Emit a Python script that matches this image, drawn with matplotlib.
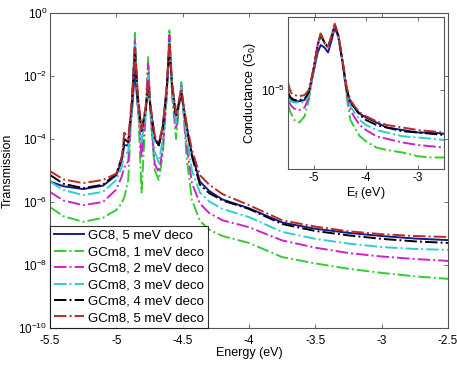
import numpy as np
import matplotlib
matplotlib.use("Agg")
import matplotlib.pyplot as plt
from matplotlib.ticker import FixedLocator, NullLocator, LogFormatterSciNotation

plt.rcParams['font.family'] = ['Liberation Sans', 'DejaVu Sans']
plt.rcParams['mathtext.fontset'] = 'custom'
plt.rcParams['mathtext.rm'] = 'Liberation Sans'
plt.rcParams['mathtext.it'] = 'Liberation Sans:italic'
plt.rcParams['axes.unicode_minus'] = False

# ---------------- main panel data (log10 of transmission) ----------------
energy = [-5.50, -5.40, -5.25, -5.10, -5.00, -4.96, -4.94, -4.91, -4.88, -4.86,
          -4.84, -4.81, -4.78, -4.76, -4.74, -4.71, -4.68, -4.65, -4.62, -4.60,
          -4.58, -4.55, -4.51, -4.49, -4.47, -4.43, -4.37, -4.30, -4.20, -4.00,
          -3.75, -3.50, -3.25, -3.00, -2.75, -2.50]

gc8_5 = [-5.35, -5.50, -5.59, -5.48, -5.15, -4.70, -4.20, -4.20, -3.00, -1.80,
         -2.90, -3.75, -3.10, -2.35, -3.10, -4.00, -4.20, -3.60, -2.40, -1.10,
         -2.30, -3.30, -2.50, -3.10, -3.60, -4.50, -5.35, -5.65, -5.92, -6.20,
         -6.65, -6.85, -6.98, -7.08, -7.16, -7.21]
gcm8_1 = [-6.16, -6.45, -6.63, -6.50, -6.25, -6.05, -5.85, -5.30, -2.50, -0.63,
          -2.50, -5.70, -3.30, -1.40, -3.40, -5.00, -5.30, -4.50, -2.60, -0.50,
          -2.60, -4.00, -2.20, -3.40, -4.60, -5.94, -6.60, -6.88, -7.08, -7.30,
          -7.75, -7.95, -8.12, -8.25, -8.36, -8.44]
gcm8_2 = [-5.68, -5.95, -6.10, -6.00, -5.60, -5.20, -4.90, -4.70, -2.60, -0.86,
          -2.60, -4.60, -3.20, -1.60, -3.30, -4.80, -5.05, -4.30, -2.60, -0.70,
          -2.50, -3.70, -2.30, -3.30, -4.20, -5.40, -6.05, -6.35, -6.58, -6.80,
          -7.22, -7.45, -7.62, -7.73, -7.81, -7.87]
gcm8_3 = [-5.35, -5.62, -5.78, -5.68, -5.30, -4.90, -4.50, -4.40, -2.80, -1.00,
          -2.70, -4.10, -3.30, -2.00, -3.20, -4.40, -4.75, -4.00, -2.50, -0.90,
          -2.40, -3.50, -2.35, -3.20, -3.90, -5.00, -5.70, -5.98, -6.22, -6.48,
          -6.95, -7.17, -7.32, -7.43, -7.49, -7.52]
gcm8_4 = [-5.14, -5.42, -5.56, -5.45, -5.10, -4.60, -4.00, -4.10, -2.70, -1.17,
          -2.60, -3.75, -3.10, -2.30, -3.10, -4.00, -4.20, -3.70, -2.40, -1.00,
          -2.30, -3.30, -2.50, -3.10, -3.60, -4.55, -5.45, -5.72, -5.95, -6.22,
          -6.70, -6.92, -7.06, -7.17, -7.25, -7.30]
gcm8_5 = [-5.02, -5.28, -5.40, -5.30, -5.10, -4.60, -3.80, -4.00, -2.60, -1.10,
          -2.50, -3.70, -3.00, -2.10, -3.00, -3.90, -4.10, -3.60, -2.30, -0.86,
          -2.20, -3.20, -2.40, -3.00, -3.50, -4.35, -5.15, -5.45, -5.75, -6.10,
          -6.58, -6.78, -6.93, -7.02, -7.08, -7.11]

# ---------------- inset data (log10 of conductance) ----------------
ef = [-5.50, -5.45, -5.38, -5.28, -5.18, -5.10, -5.00, -4.93, -4.87, -4.80,
      -4.73, -4.66, -4.60, -4.53, -4.45, -4.37, -4.30, -4.22, -4.12, -4.00,
      -3.80, -3.60, -3.30, -3.00, -2.75, -2.50]
g_gc8_5 = [-5.04, -5.07, -5.09, -5.09, -5.08, -5.02, -4.84, -4.70, -4.64, -4.66,
           -4.70, -4.60, -4.50, -4.58, -4.78, -5.00, -5.10, -5.14, -5.19, -5.22,
           -5.26, -5.30, -5.32, -5.34, -5.34, -5.35]
g_gcm8_1 = [-5.12, -5.18, -5.24, -5.26, -5.21, -5.08, -4.82, -4.64, -4.54, -4.62,
            -4.66, -4.57, -4.48, -4.57, -4.78, -5.06, -5.24, -5.30, -5.37, -5.41,
            -5.46, -5.48, -5.50, -5.53, -5.54, -5.54]
g_gcm8_2 = [-5.08, -5.12, -5.15, -5.16, -5.14, -5.06, -4.82, -4.64, -4.55, -4.62,
            -4.66, -4.57, -4.48, -4.57, -4.78, -5.03, -5.16, -5.22, -5.28, -5.32,
            -5.37, -5.39, -5.42, -5.44, -5.45, -5.46]
g_gcm8_3 = [-5.06, -5.09, -5.10, -5.10, -5.10, -5.04, -4.82, -4.65, -4.56, -4.62,
            -4.66, -4.57, -4.48, -4.57, -4.78, -5.02, -5.13, -5.18, -5.24, -5.28,
            -5.32, -5.34, -5.37, -5.38, -5.39, -5.40]
g_gcm8_4 = [-5.02, -5.06, -5.08, -5.08, -5.07, -5.02, -4.81, -4.64, -4.56, -4.62,
            -4.66, -4.57, -4.48, -4.57, -4.78, -5.00, -5.10, -5.14, -5.20, -5.24,
            -5.28, -5.30, -5.33, -5.34, -5.35, -5.36]
g_gcm8_5 = [-4.94, -5.02, -5.04, -5.05, -5.04, -5.00, -4.81, -4.64, -4.55, -4.62,
            -4.65, -4.56, -4.47, -4.56, -4.76, -4.98, -5.08, -5.13, -5.18, -5.21,
            -5.25, -5.28, -5.30, -5.32, -5.33, -5.34]

labels = ["GC8, 5 meV deco", "GCm8, 1 meV deco", "GCm8, 2 meV deco",
          "GCm8, 3 meV deco", "GCm8, 4 meV deco", "GCm8, 5 meV deco"]
colors = ["#1a1a8c", "#33cc33", "#cc22cc", "#33cccc", "#000000", "#bb2a2a"]
styles = ["-", "-.", "-.", "-.", "-.", "-."]

main_series = [gc8_5, gcm8_1, gcm8_2, gcm8_3, gcm8_4, gcm8_5]
inset_series = [g_gc8_5, g_gcm8_1, g_gcm8_2, g_gcm8_3, g_gcm8_4, g_gcm8_5]

fig = plt.figure(figsize=(4.57, 3.65), dpi=100)
W, H = 457, 365

def box(l, t, r, b):
    return [l / W, 1 - b / H, (r - l) / W, (b - t) / H]

frame_col = "#555555"

ax = fig.add_axes(box(50, 13, 448, 328))
for s, c, ls, lab in zip(main_series, colors, styles, labels):
    ax.semilogy(energy, 10.0 ** np.array(s), color=c, ls=ls, lw=1.4, label=lab)
ax.set_xlim(-5.5, -2.5)
ax.set_ylim(1e-10, 1e0)
ax.set_xticks([-5.5, -5, -4.5, -4, -3.5, -3, -2.5])
ax.set_xticklabels(["-5.5", "-5", "-4.5", "-4", "-3.5", "-3", "-2.5"])
ax.yaxis.set_major_locator(FixedLocator([1e-10, 1e-8, 1e-6, 1e-4, 1e-2, 1e0]))
ax.yaxis.set_minor_locator(NullLocator())
ax.yaxis.set_major_formatter(LogFormatterSciNotation())
ax.tick_params(direction="in", which="both", top=True, right=True, labelsize=8.5,
               length=3, width=0.6, color=frame_col, pad=2)
ax.tick_params(axis="x", pad=5)
for sp in ax.spines.values():
    sp.set_color(frame_col)
    sp.set_linewidth(0.8)
ax.set_xlabel("Energy (eV)", fontsize=9, labelpad=0)
ax.set_ylabel("Transmission", fontsize=9, labelpad=3)
leg = ax.legend(loc="lower left", fontsize=9.5, frameon=True, fancybox=False,
                borderaxespad=0, handlelength=2.3, labelspacing=0.32,
                handletextpad=0.3, borderpad=0.3)
leg.get_frame().set_edgecolor("black")
leg.get_frame().set_linewidth(0.8)

axi = fig.add_axes(box(288, 17, 444, 169))
for s, c, ls in zip(inset_series, colors, styles):
    axi.semilogy(ef, 10.0 ** np.array(s), color=c, ls=ls, lw=1.4)
axi.set_xlim(-5.5, -2.5)
axi.set_ylim(10 ** -5.632, 10 ** -4.416)
axi.set_xticks([-5, -4, -3])
axi.set_xticklabels(["-5", "-4", "-3"])
axi.yaxis.set_major_locator(FixedLocator([1e-5]))
axi.yaxis.set_minor_locator(NullLocator())
axi.yaxis.set_major_formatter(LogFormatterSciNotation())
axi.tick_params(direction="in", which="both", top=True, right=True, labelsize=8.5,
                length=3, width=0.6, color=frame_col, pad=2)
for sp in axi.spines.values():
    sp.set_color(frame_col)
    sp.set_linewidth(0.8)
axi.set_xlabel(r"E$_\mathrm{f}$ (eV)", fontsize=9, labelpad=1)
axi.set_ylabel(r"Conductance (G$_\mathrm{0}$)", fontsize=9, labelpad=2)

fig.savefig("out.png", dpi=100)
